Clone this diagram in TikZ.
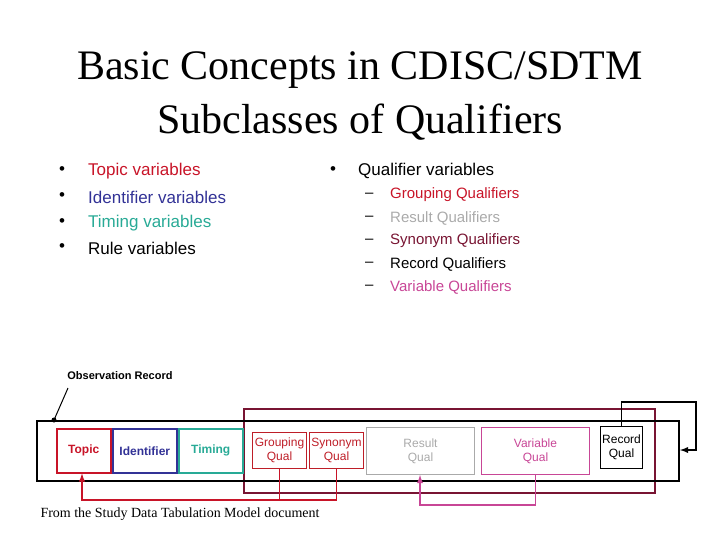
\documentclass[tikz,border=0pt]{standalone}
\usepackage{fontspec}
\setmainfont{Liberation Serif}
\newfontfamily\arial{Liberation Sans}
\definecolor{tred}{RGB}{200,20,40}
\definecolor{tblue}{RGB}{50,50,150}
\definecolor{tteal}{RGB}{40,170,150}
\definecolor{tgray}{RGB}{170,170,170}
\definecolor{tpink}{RGB}{200,70,150}
\definecolor{tmaroon}{RGB}{120,20,50}
\definecolor{gred}{RGB}{190,30,40}
\begin{document}
\begin{tikzpicture}[x=1pt,y=-1pt,
  lt/.style={font=\arial\fontsize{17}{20}\selectfont,anchor=west,inner sep=0},
  st/.style={font=\arial\fontsize{15}{18}\selectfont,anchor=west,inner sep=0},
  bx/.style={draw,line width=1.5pt,inner sep=0,align=center,font=\arial\fontsize{12}{14}\selectfont},
  cn/.style={line width=1.8pt}]
\useasboundingbox (0,0) rectangle (720,540);
\node (t1) at (360,70) {\fontsize{42}{46}\selectfont Basic Concepts in CDISC/SDTM};
\node (t2) at (360,122) {\fontsize{42}{46}\selectfont Subclasses of Qualifiers};
\foreach \y/\t/\c [count=\i] in {171/Topic variables/tred,197/Identifier variables/tblue,223/Timing variables/tteal,248/Rule variables/black}{
  \node[lt] (b\i) at (59,\y) {•};
  \node[lt,text=\c] (l\i) at (88,\y) {\t};}
\node[lt] (q0) at (330,171) {•};
\node[lt] (ql) at (358,171) {Qualifier variables};
\foreach \y/\t/\c [count=\i] in {195/Grouping Qualifiers/tred,218/Result Qualifiers/tgray,241/Synonym Qualifiers/tmaroon,264/Record Qualifiers/black,287/Variable Qualifiers/tpink}{
  \node[st] (d\i) at (365,\y) {–};
  \node[st,text=\c] (s\i) at (390,\y) {\t};}
% boxes
\node[draw=tmaroon,line width=2pt,minimum width=411,minimum height=84,anchor=north west] (mq) at (243,408) {};
\node[draw,line width=2pt,minimum width=642,minimum height=60,anchor=north west] (rec) at (36,420) {};
\node[bx,draw=tred,text=tred,minimum width=54,minimum height=44,anchor=north west,font=\arial\bfseries\fontsize{12}{14}\selectfont] (topic) at (56,428) {Topic};
\node[bx,draw=tblue,text=tblue,minimum width=64,minimum height=44,anchor=north west,font=\arial\bfseries\fontsize{12}{14}\selectfont] (ident) at (112,428) {Identifier};
\node[bx,draw=tteal,text=tteal,minimum width=64,minimum height=44,anchor=north west,font=\arial\bfseries\fontsize{12}{14}\selectfont] (timing) at (178,428) {Timing};
\node[bx,line width=1pt,draw=gred,text=gred,minimum width=54,minimum height=36,anchor=north west] (grp) at (252,432) {Grouping\\Qual};
\node[bx,line width=1pt,draw=gred,text=gred,minimum width=54,minimum height=36,anchor=north west] (syn) at (309,432) {Synonym\\Qual};
\node[bx,line width=1pt,draw=tgray,text=tgray,minimum width=108,minimum height=47,anchor=north west] (res) at (366,427) {Result\\Qual};
\node[bx,line width=1pt,draw=tpink,text=tpink,minimum width=108,minimum height=47,anchor=north west] (var) at (481,427) {Variable\\Qual};
\node[bx,line width=1pt,minimum width=42,minimum height=42,anchor=north west] (rq) at (600,426) {Record\\Qual};
\node[font=\arial\bfseries\fontsize{11}{13}\selectfont] (obs) at (120,376) {Observation Record};
\coordinate (od) at (54,420);
\fill (od) circle (2.5);
\draw[line width=1pt] (od) -- (68,388);
% connectors
\draw[cn,tred,-latex] (grp.south) |- (82,500) -- (topic.south -| 82,0);
\draw[cn,tred] (syn.south) |- (grp.south |- 0,500);
\draw[cn,tpink,-latex] (var.south) |- (420,505) -- (res.south -| 420,0);
\draw[cn,-latex] (rq.north) |- (696,402) |- (rec.east |- 0,450);
\node[font=\fontsize{14}{16}\selectfont] (src) at (180,514) {From the Study Data Tabulation Model document};
\end{tikzpicture}
\end{document}
